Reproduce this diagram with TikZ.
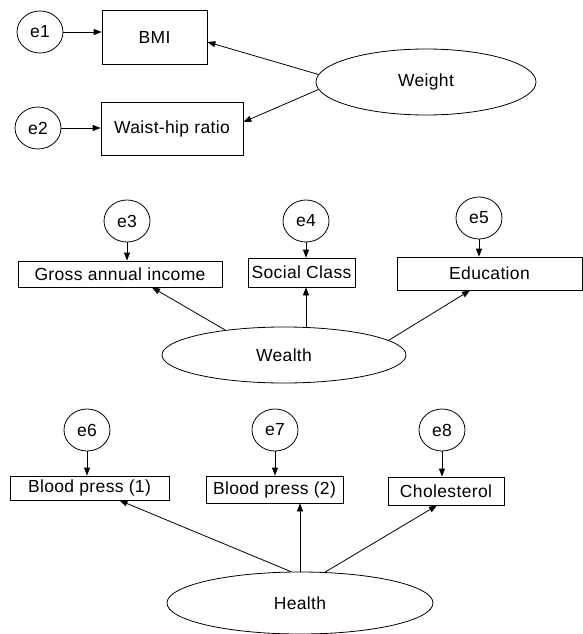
\documentclass[tikz,border=0pt]{standalone}
\usepackage{fontspec}
\setmainfont[LetterSpace=2]{Liberation Sans}
\usetikzlibrary{arrows.meta,shapes.geometric,calc}
\begin{document}
\begin{tikzpicture}[x=1pt,y=-1pt,
  every node/.style={font=\fontsize{17.5}{20}\selectfont, inner sep=0pt},
  obs/.style={draw, rectangle, line width=0.8pt},
  err/.style={draw, ellipse, minimum width=46pt, minimum height=42pt, line width=0.8pt},
  lat/.style={draw, ellipse, line width=0.8pt},
  arr/.style={-{Triangle[length=8pt,width=6pt]}, line width=0.8pt}]
\useasboundingbox (0,0) rectangle (583,634);
% Weight
\node[err] (e1) at (40,32) {e1};
\node[obs, minimum width=105pt, minimum height=54pt] (bmi) at (154.5,37) {BMI};
\node[err] (e2) at (38,128) {e2};
\node[obs, minimum width=142pt, minimum height=53pt] (whr) at (172,128.5) {Waist-hip ratio};
\node[lat, minimum width=220pt, minimum height=66pt] (weight) at (426,82) {Weight};
\draw[arr] (e1.east) -- (e1.east -| bmi.west);
\draw[arr] (e2.east) -- (e2.east -| whr.west);
\draw[arr] (weight.176) -- ($(bmi.east)+(0,5)$);
\draw[arr] (weight.184) -- ($(whr.east)+(0,-6.5)$);
% Wealth
\node[err] (e3) at (127,221) {e3};
\node[err] (e4) at (306,221) {e4};
\node[err] (e5) at (479,218) {e5};
\node[obs, minimum width=204pt, minimum height=26pt] (gross) at (120,274) {Gross annual income};
\node[obs, minimum width=107pt, minimum height=29pt] (social) at (301.5,272.5) {Social Class};
\node[obs, minimum width=185pt, minimum height=33pt] (edu) at (489.5,273.5) {Education};
\node[lat, minimum width=244pt, minimum height=56pt] (wealth) at (284,355) {Wealth};
\draw[arr] (e3.south) -- (e3.south |- gross.north);
\draw[arr] (e4.south) -- (e4.south |- social.north);
\draw[arr] (e5.south) -- (e5.south |- edu.north);
\coordinate (sc) at ($(social.south)+(4.5,0)$);
\draw[arr] (wealth.157) -- ($(gross.south)+(32,0)$);
\draw[arr] (sc |- wealth.north) -- (sc);
\draw[arr] (wealth.8) -- ($(edu.south)+(-19.5,0)$);
% Health
\node[err] (e6) at (87,430) {e6};
\node[err] (e7) at (275,430) {e7};
\node[err] (e8) at (442,430) {e8};
\node[obs, minimum width=159pt, minimum height=24pt] (bp1) at (89.5,488) {Blood press (1)};
\node[obs, minimum width=137pt, minimum height=27pt] (bp2) at (274.5,489.5) {Blood press (2)};
\node[obs, minimum width=116pt, minimum height=28pt] (chol) at (446,491) {Cholesterol};
\node[lat, minimum width=266pt, minimum height=62pt] (health) at (300,603) {Health};
\draw[arr] (e6.south) -- (e6.south |- bp1.north);
\draw[arr] (e7.south) -- (e7.south |- bp2.north);
\draw[arr] (e8.south) -- (e8.south |- chol.north);
\draw[arr] (health.106) -- ($(bp1.south)+(30,0)$);
\draw[arr] (health.north) -- (health.north |- bp2.south);
\draw[arr] (health.51) -- ($(chol.south)+(-9,0)$);
\end{tikzpicture}
\end{document}
